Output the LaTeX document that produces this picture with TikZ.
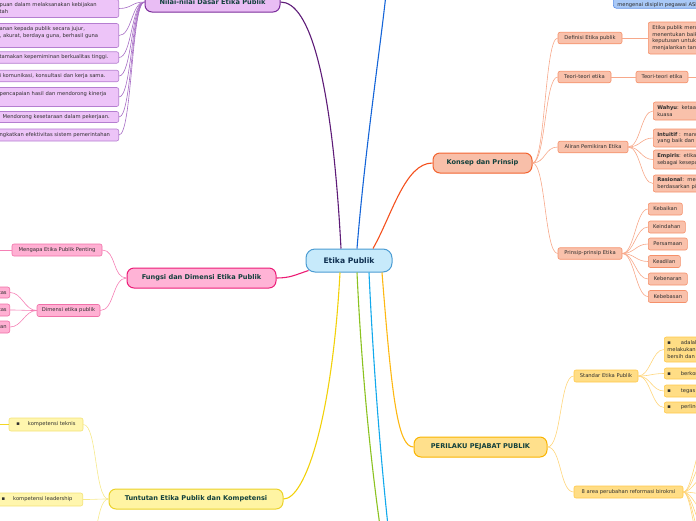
\documentclass[tikz,border=0pt]{standalone}
\usepackage{fontspec}
\setmainfont{DejaVu Sans}
\definecolor{txt}{HTML}{2E2E2E}
\definecolor{maintxt}{HTML}{12403C}
\definecolor{cenT}{HTML}{0E2F50}
\definecolor{cenF}{HTML}{C7EAFB}
\definecolor{cenD}{HTML}{4B9CD3}
\definecolor{purpF}{HTML}{E9BDF4}
\definecolor{purpD}{HTML}{7B2D9B}
\definecolor{purpCF}{HTML}{EDC4F8}
\definecolor{purpCD}{HTML}{B57ED0}
\definecolor{purpM}{HTML}{5E1C78}
\definecolor{purpL}{HTML}{A66CC4}
\definecolor{salF}{HTML}{F8BFA9}
\definecolor{salD}{HTML}{F26430}
\definecolor{salM}{HTML}{F4511E}
\definecolor{salCF}{HTML}{F9C1AB}
\definecolor{salCD}{HTML}{F5906A}
\definecolor{salL}{HTML}{F7A88A}
\definecolor{pinkF}{HTML}{FFB3D6}
\definecolor{pinkD}{HTML}{EC1C78}
\definecolor{pinkM}{HTML}{EC1C74}
\definecolor{pinkCF}{HTML}{FFB0D3}
\definecolor{pinkCD}{HTML}{F070A8}
\definecolor{pinkL}{HTML}{F580B5}
\definecolor{yelF}{HTML}{FFF4A3}
\definecolor{yelD}{HTML}{EBD22A}
\definecolor{yelM}{HTML}{F2D10A}
\definecolor{yelCF}{HTML}{FFF6AE}
\definecolor{yelCD}{HTML}{F3E276}
\definecolor{yelL}{HTML}{F6E98C}
\definecolor{oraF}{HTML}{FFE08C}
\definecolor{oraD}{HTML}{F9B400}
\definecolor{oraM}{HTML}{FDB813}
\definecolor{oraCF}{HTML}{FFDD85}
\definecolor{oraCD}{HTML}{FFC94A}
\definecolor{oraL}{HTML}{FFD57A}
\definecolor{bluM}{HTML}{1565D8}
\definecolor{bluCF}{HTML}{A9C9F7}
\definecolor{bluCD}{HTML}{5C8EE6}
\definecolor{grnM}{HTML}{8BC220}
\definecolor{cyaM}{HTML}{13A9EC}
\newcommand{\hid}[1]{\leavevmode\llap{#1}}
\begin{document}
\begin{tikzpicture}[x=1pt,y=-1pt,
  base/.style={draw, align=center, text=txt},
  mainnode/.style={base, rounded corners=7pt, line width=1pt, font=\bfseries\fontsize{6.6}{8}\selectfont, text=maintxt, inner sep=2pt, minimum height=20pt},
  child/.style={base, rounded corners=2pt, line width=0.6pt, font=\fontsize{5.2}{6.8}\selectfont, inner xsep=3pt, inner ysep=1.5pt, minimum height=11.5pt},
  mainline/.style={line width=1.1pt},
  subline/.style={line width=0.6pt},
  purpm/.style={mainnode, fill=purpF, draw=purpD},
  purpc/.style={child, fill=purpCF, draw=purpCD},
  salm/.style={mainnode, fill=salF, draw=salD},
  salc/.style={child, fill=salCF, draw=salCD},
  pinkm/.style={mainnode, fill=pinkF, draw=pinkD},
  pinkc/.style={child, fill=pinkCF, draw=pinkCD},
  yelm/.style={mainnode, fill=yelF, draw=yelD},
  yelc/.style={child, fill=yelCF, draw=yelCD},
  oram/.style={mainnode, fill=oraF, draw=oraD},
  orac/.style={child, fill=oraCF, draw=oraCD},
  bluc/.style={child, fill=bluCF, draw=bluCD, rounded corners=3pt},
  leftcut/.style={anchor=east, align=left, text width=116pt},
  rightcut/.style={anchor=west, align=left, text width=130pt, inner xsep=4pt}
]
\useasboundingbox (0,0) rectangle (696,520);
\clip (0,0) rectangle (696,520);

% ---------- main nodes ----------
\node[mainnode, fill=cenF, draw=cenD, text=cenT, font=\bfseries\fontsize{7.6}{9}\selectfont, minimum width=86pt, minimum height=23pt, rounded corners=9pt] (etika) at (349,260.5) {Etika Publik};
\node[purpm, minimum width=135pt] (nilai) at (212.5,2) {Nilai-nilai Dasar Etika Publik};
\node[salm, minimum width=99pt] (konsep) at (482.5,163) {Konsep dan Prinsip};
\node[pinkm, minimum width=149pt] (fungsi) at (201.5,278) {Fungsi dan Dimensi Etika Publik};
\node[yelm, minimum width=174pt] (tuntutan) at (196,499) {Tuntutan Etika Publik dan Kompetensi};
\node[oram, minimum width=133pt] (perilaku) at (480.5,447) {PERILAKU PEJABAT PUBLIK};

% ---------- main connectors ----------
\coordinate (bluetop) at (386,-6);
\coordinate (greenend) at (380,526);
\coordinate (cyanend) at (388,526);
\draw[mainline, purpM] ([xshift=-8pt]etika.north) .. controls (332,80) and (310,2) .. (nilai.east);
\draw[mainline, bluM] ([xshift=8pt]etika.north) .. controls (365,150) and (380,50) .. (bluetop);
\draw[mainline, salM] ([xshift=24pt]etika.north) .. controls (392,215) and (405,163) .. (konsep.west);
\draw[mainline, pinkM] ([xshift=3pt,yshift=2pt]etika.south west) .. controls (295,275) and (290,278) .. (fungsi.east);
\draw[mainline, yelM] ([xshift=-9pt]etika.south) .. controls (332,420) and (305,499) .. (tuntutan.east);
\draw[mainline, grnM] ([xshift=8pt]etika.south) .. controls (362,380) and (372,470) .. (greenend);
\draw[mainline, cyaM] ([xshift=20pt]etika.south) .. controls (374,380) and (382,470) .. (cyanend);
\draw[mainline, oraM] ([xshift=33pt]etika.south) .. controls (392,400) and (398,447) .. (perilaku.west);

% ---------- blue branch child (top right) ----------
\node[bluc, anchor=south west, text height=14pt, text depth=0.3pt, inner ysep=1.5pt, inner xsep=4pt, minimum height=0pt] (blue1) at (613,8.5) {mengenai disiplin pegawai ASN};

% ---------- Nilai-nilai Dasar children ----------
\node[purpc, leftcut, minimum height=18pt] (n1) at (119,8.5) {\hid{Memiliki kemam}puan dalam melaksanakan kebijakan\\\hid{dan program pemerin}tah};
\node[purpc, leftcut, minimum height=24pt] (n2) at (119,35.5) {\hid{Memberikan lay}anan kepada publik secara jujur,\\\hid{tanggap, cepat, tepat}, akurat, berdaya guna, berhasil guna\\\hid{dan santun.}};
\node[purpc, leftcut] (n3) at (119,57.5) {\hid{Mengu}tamakan kepemiminan berkualitas tinggi.};
\node[purpc, leftcut] (n4) at (119,76) {\hid{Mengharga}i komunikasi, konsultasi dan kerja sama.};
\node[purpc, leftcut, minimum height=19pt] (n5) at (119,97) {\hid{Mengutamakan }pencapaian hasil dan mendorong kinerja\\\hid{pegawai.}};
\node[purpc, leftcut, minimum height=11pt] (n6) at (119,117) {\hid{Menciptakan lingkungan kerja yang nondiskriminatif.}\hspace{3pt}Mendorong kesetaraan dalam pekerjaan.};
\node[purpc, leftcut, minimum height=12pt] (n7) at (119,135) {\hid{Meni}ngkatkan efektivitas sistem pemerintahan};
\foreach \c in {n1,n2,n3,n4,n5,n6,n7}
  \draw[subline, purpL] (nilai.west) .. controls +(-13,0) and +(13,0) .. (\c.east);

% ---------- Konsep dan Prinsip children ----------
\node[salc, minimum width=64pt] (def) at (590,38) {Definisi Etika publik};
\node[salc, rightcut, minimum height=32pt] (defc) at (648,38) {Etika publik merupakan\\menentukan baik dan\\keputusan untuk\\menjalankan tanggung};
\node[salc, minimum width=53pt] (teori) at (584.5,77) {Teori-teori etika};
\node[salc, minimum width=52pt] (teoric) at (662,77) {Teori-teori etika};
\coordinate (teoriend) at (705,77);
\node[salc, minimum width=70pt] (aliran) at (593,147) {Aliran Pemikiran Etika};
\node[salc, rightcut, minimum height=18pt] (wah) at (653,111) {\textbf{Wahyu}: ketaatan pada Yang Maha\\kuasa};
\node[salc, rightcut, minimum height=18pt] (intu) at (653,138) {\textbf{Intuitif} : manusia mengetahui\\yang baik dan buruk};
\node[salc, rightcut, minimum height=19pt] (emp) at (653,159.5) {\textbf{Empiris}: etika berasal dari\\sebagai kesepakatan};
\node[salc, rightcut, minimum height=17pt] (ras) at (653,183.5) {\textbf{Rasional}:\ \ menilai\\berdasarkan pikiran};
\node[salc, minimum width=64pt] (prinsip) at (590,253.5) {Prinsip-prinsip Etika};
\node[salc, anchor=west, minimum width=34pt, minimum height=12pt] (p1) at (648,209) {Kebaikan};
\node[salc, anchor=west, minimum width=37pt, minimum height=12pt] (p2) at (648,227) {Keindahan};
\node[salc, anchor=west, minimum width=39pt, minimum height=12pt] (p3) at (648,244) {Persamaan};
\node[salc, anchor=west, minimum width=32pt, minimum height=12pt] (p4) at (648,261.5) {Keadilan};
\node[salc, anchor=west, minimum width=39pt, minimum height=12pt] (p5) at (648,279) {Kebenaran};
\node[salc, anchor=west, minimum width=39pt, minimum height=12pt] (p6) at (648,296.5) {Kebebasan};
\foreach \c in {def,teori,aliran,prinsip}
  \draw[subline, salL] (konsep.east) .. controls +(13,0) and +(-13,0) .. (\c.west);
\draw[subline, salL] (def.east) -- (defc.west);
\draw[subline, salL] (teori.east) -- (teoric.west);
\draw[subline, salL] (teoric.east) -- (teoriend);
\foreach \c in {wah,intu,emp,ras}
  \draw[subline, salL] (aliran.east) .. controls +(12,0) and +(-12,0) .. (\c.west);
\foreach \c in {p1,p2,p3,p4,p5,p6}
  \draw[subline, salL] (prinsip.east) .. controls +(12,0) and +(-12,0) .. (\c.west);

% ---------- Fungsi dan Dimensi children ----------
\node[pinkc, minimum width=90pt, minimum height=12pt] (meng) at (57,250) {Mengapa Etika Publik Penting};
\coordinate (mengend) at (-6,250);
\node[pinkc, minimum width=63pt, minimum height=12pt] (dim) at (68.5,310.5) {Dimensi etika publik};
\node[pinkc, anchor=east, minimum height=11pt] (d1) at (10,292.5) {Modalitas};
\node[pinkc, anchor=east, minimum height=12pt] (d2) at (10,310) {Tindakan Integritas};
\node[pinkc, anchor=east, minimum height=12pt] (d3) at (10,327) {Pelayanan};
\draw[subline, pinkL] (fungsi.west) .. controls +(-14,0) and +(14,0) .. (meng.east);
\draw[subline, pinkL] (fungsi.west) .. controls +(-14,0) and +(14,0) .. (dim.east);
\draw[subline, pinkL] (meng.west) -- (mengend);
\foreach \c in {d1,d2,d3}
  \draw[subline, pinkL] (dim.west) .. controls +(-12,0) and +(12,0) .. (\c.east);

% ---------- Tuntutan children ----------
\node[yelc, minimum width=74pt, minimum height=13pt] (tek) at (46,424.5) {▪\hspace{8pt}kompetensi teknis};
\coordinate (tekend) at (-6,424.5);
\node[yelc, anchor=east, align=left, text width=79pt, minimum height=13pt] (lead) at (83,499.5) {\hspace{1pt}▪\hspace{8pt}kompetensi leadership};
\coordinate (tuntnext) at (83,565);
\draw[subline, yelL] (tuntutan.west) .. controls +(-14,0) and +(14,0) .. (tek.east);
\draw[subline, yelL] (tuntutan.west) .. controls +(-14,0) and +(14,0) .. (lead.east);
\draw[subline, yelL] (tuntutan.west) .. controls +(-14,0) and +(14,0) .. (tuntnext);
\draw[line width=1.4pt, yelM!80!yelL] (tek.west) -- (tekend);

% ---------- PERILAKU children ----------
\node[orac, minimum width=64pt, minimum height=12pt] (std) at (606,376) {Standar Etika Publik};
\node[orac, minimum width=109pt, minimum height=12pt] (area) at (628.5,492) {8 area perubahan reformasi birokrsi};
\node[orac, rightcut, inner xsep=3pt, minimum height=25pt] (s1) at (664,349.5) {▪\hspace{10pt}adalah\\melakukan\\bersih dan};
\node[orac, rightcut, inner xsep=3pt, minimum height=11pt] (s2) at (664,373.5) {▪\hspace{10pt}berkomitmen};
\node[orac, rightcut, inner xsep=3pt, minimum height=12pt] (s3) at (664,391) {▪\hspace{10pt}tegas};
\node[orac, rightcut, inner xsep=3pt, minimum height=11pt] (s4) at (664,407.5) {▪\hspace{10pt}perlindungan};
\draw[subline, oraL] (perilaku.east) .. controls +(14,0) and +(-14,0) .. (std.west);
\draw[subline, oraL] (perilaku.east) .. controls +(14,0) and +(-14,0) .. (area.west);
\foreach \c in {s1,s2,s3,s4}
  \draw[subline, oraL] (std.east) .. controls +(12,0) and +(-12,0) .. (\c.west);
\foreach \k/\yy in {a1/440,a2/458,a3/476,a4/494,a5/512,a6/530,a7/548,a8/566}{
  \coordinate (\k) at (706,\yy);
  \draw[subline, oraL] (area.east) .. controls +(9,0) and +(-9,0) .. (\k);
}
\end{tikzpicture}
\end{document}
